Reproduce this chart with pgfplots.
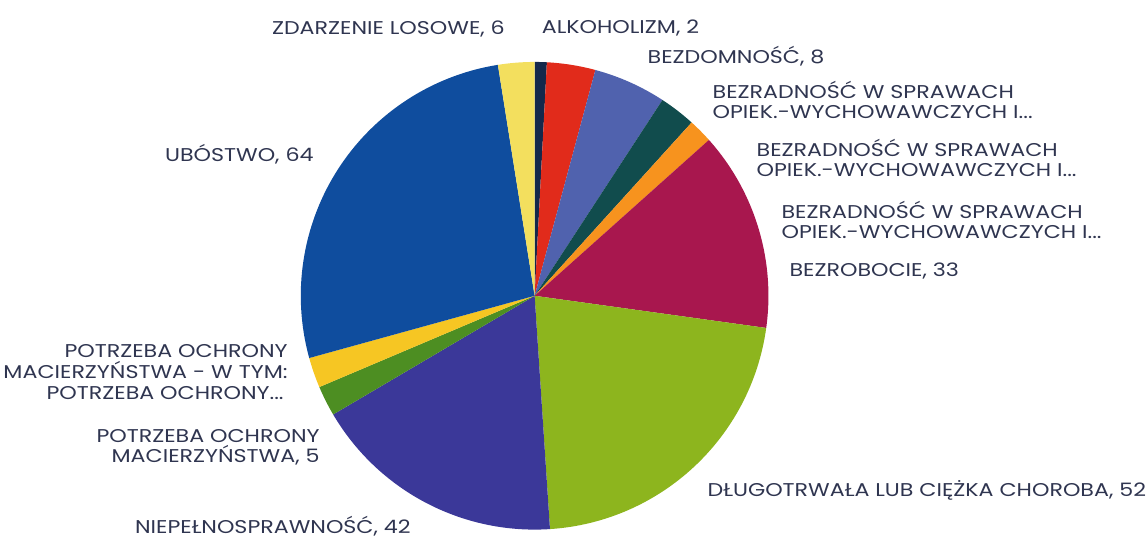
\documentclass[border=0pt]{standalone}
\usepackage{pgfplots}
\usepackage{pgfplotstable}
\pgfplotsset{compat=1.18}
\usepackage{fontspec}
\setmainfont{Poppins}[FakeStretch=1.2]
\definecolor{c1}{HTML}{14284B}
\definecolor{c2}{HTML}{E12B1B}
\definecolor{c3}{HTML}{5062AE}
\definecolor{c4}{HTML}{114C4D}
\definecolor{c5}{HTML}{F7931E}
\definecolor{c6}{HTML}{A8174E}
\definecolor{c7}{HTML}{8DB51E}
\definecolor{c8}{HTML}{3B3899}
\definecolor{c9}{HTML}{4D8E22}
\definecolor{c10}{HTML}{F6C623}
\definecolor{c11}{HTML}{0F4D9E}
\definecolor{c12}{HTML}{F3DF5E}
\definecolor{txt}{HTML}{2F3550}
\pgfplotstableread{
value color
2  c1
8  c2
12 c3
6  c4
4  c5
33 c6
52 c7
42 c8
5  c9
5  c10
64 c11
6  c12
}\piedata
% precompute slice angles (clockwise from the top) from the table values
\pgfplotstablegetrowsof{\piedata}
\pgfmathtruncatemacro\N{\pgfplotsretval-1}
\gdef\total{0}
\foreach \i in {0,...,\N}{%
  \pgfplotstablegetelem{\i}{value}\of\piedata
  \pgfmathsetmacro\tmpT{\total+\pgfplotsretval}\global\let\total\tmpT}
\pgfmathsetmacro\degper{360/\total}
\gdef\cum{0}
\foreach \i in {0,...,\N}{%
  \pgfplotstablegetelem{\i}{value}\of\piedata \let\vv\pgfplotsretval
  \pgfplotstablegetelem{\i}{color}\of\piedata \global\expandafter\let\csname col\i\endcsname\pgfplotsretval
  \pgfmathsetmacro\aa{90-\degper*\cum}\global\expandafter\let\csname angA\i\endcsname\aa
  \pgfmathsetmacro\bb{90-\degper*(\cum+\vv)}\global\expandafter\let\csname angB\i\endcsname\bb
  \pgfmathsetmacro\xx{535+234*cos(\aa)}\global\expandafter\let\csname px\i\endcsname\xx
  \pgfmathsetmacro\yy{244+234*sin(\aa)}\global\expandafter\let\csname py\i\endcsname\yy
  \pgfmathsetmacro\nc{\cum+\vv}\global\let\cum\nc
}
\begin{document}
\begin{tikzpicture}
\begin{axis}[hide axis, scale only axis, width=1146bp, height=540bp,
  xmin=0, xmax=1146, ymin=0, ymax=540, clip=false]
\path (axis cs:0,0) rectangle (axis cs:1146,540);
\pgfplotsinvokeforeach{0,...,11}{%
  \fill[fill=\csname col#1\endcsname] (axis cs:535,244) -- (axis cs:\csname px#1\endcsname,\csname py#1\endcsname)
    arc[start angle=\csname angA#1\endcsname, end angle=\csname angB#1\endcsname, radius=234bp] -- cycle;
}
\tikzset{lab/.style={text=txt, inner sep=0pt, font=\fontsize{18.5bp}{20bp}\selectfont}}
\node[lab, anchor=base west] at (axis cs:272,505) {ZDARZENIE LOSOWE, 6};
\node[lab, anchor=base west] at (axis cs:542,506) {ALKOHOLIZM, 2};
\node[lab, anchor=base west] at (axis cs:648,476) {BEZDOMNOŚĆ, 8};
\node[lab, anchor=base west] at (axis cs:713,441) {BEZRADNOŚĆ W SPRAWACH};
\node[lab, anchor=base west] at (axis cs:713,421) {OPIEK.-WYCHOWAWCZYCH I...};
\node[lab, anchor=base west] at (axis cs:757,383) {BEZRADNOŚĆ W SPRAWACH};
\node[lab, anchor=base west] at (axis cs:757,363) {OPIEK.-WYCHOWAWCZYCH I...};
\node[lab, anchor=base west] at (axis cs:782,321) {BEZRADNOŚĆ W SPRAWACH};
\node[lab, anchor=base west] at (axis cs:782,301) {OPIEK.-WYCHOWAWCZYCH I...};
\node[lab, anchor=base west] at (axis cs:790,263) {BEZROBOCIE, 33};
\node[lab, anchor=base west] at (axis cs:708,43) {DŁUGOTRWAŁA LUB CIĘŻKA CHOROBA, 52};
\node[lab, anchor=base west] at (axis cs:135,6) {NIEPEŁNOSPRAWNOŚĆ, 42};
\node[lab, anchor=base east] at (axis cs:320,97) {POTRZEBA OCHRONY};
\node[lab, anchor=base east] at (axis cs:320,77) {MACIERZYŃSTWA, 5};
\node[lab, anchor=base east] at (axis cs:288,182) {POTRZEBA OCHRONY};
\node[lab, anchor=base east] at (axis cs:288,161) {MACIERZYŃSTWA - W TYM:};
\node[lab, anchor=base east] at (axis cs:284,140) {POTRZEBA OCHRONY...};
\node[lab, anchor=base west] at (axis cs:165,378) {UBÓSTWO, 64};
\end{axis}
\end{tikzpicture}
\end{document}
